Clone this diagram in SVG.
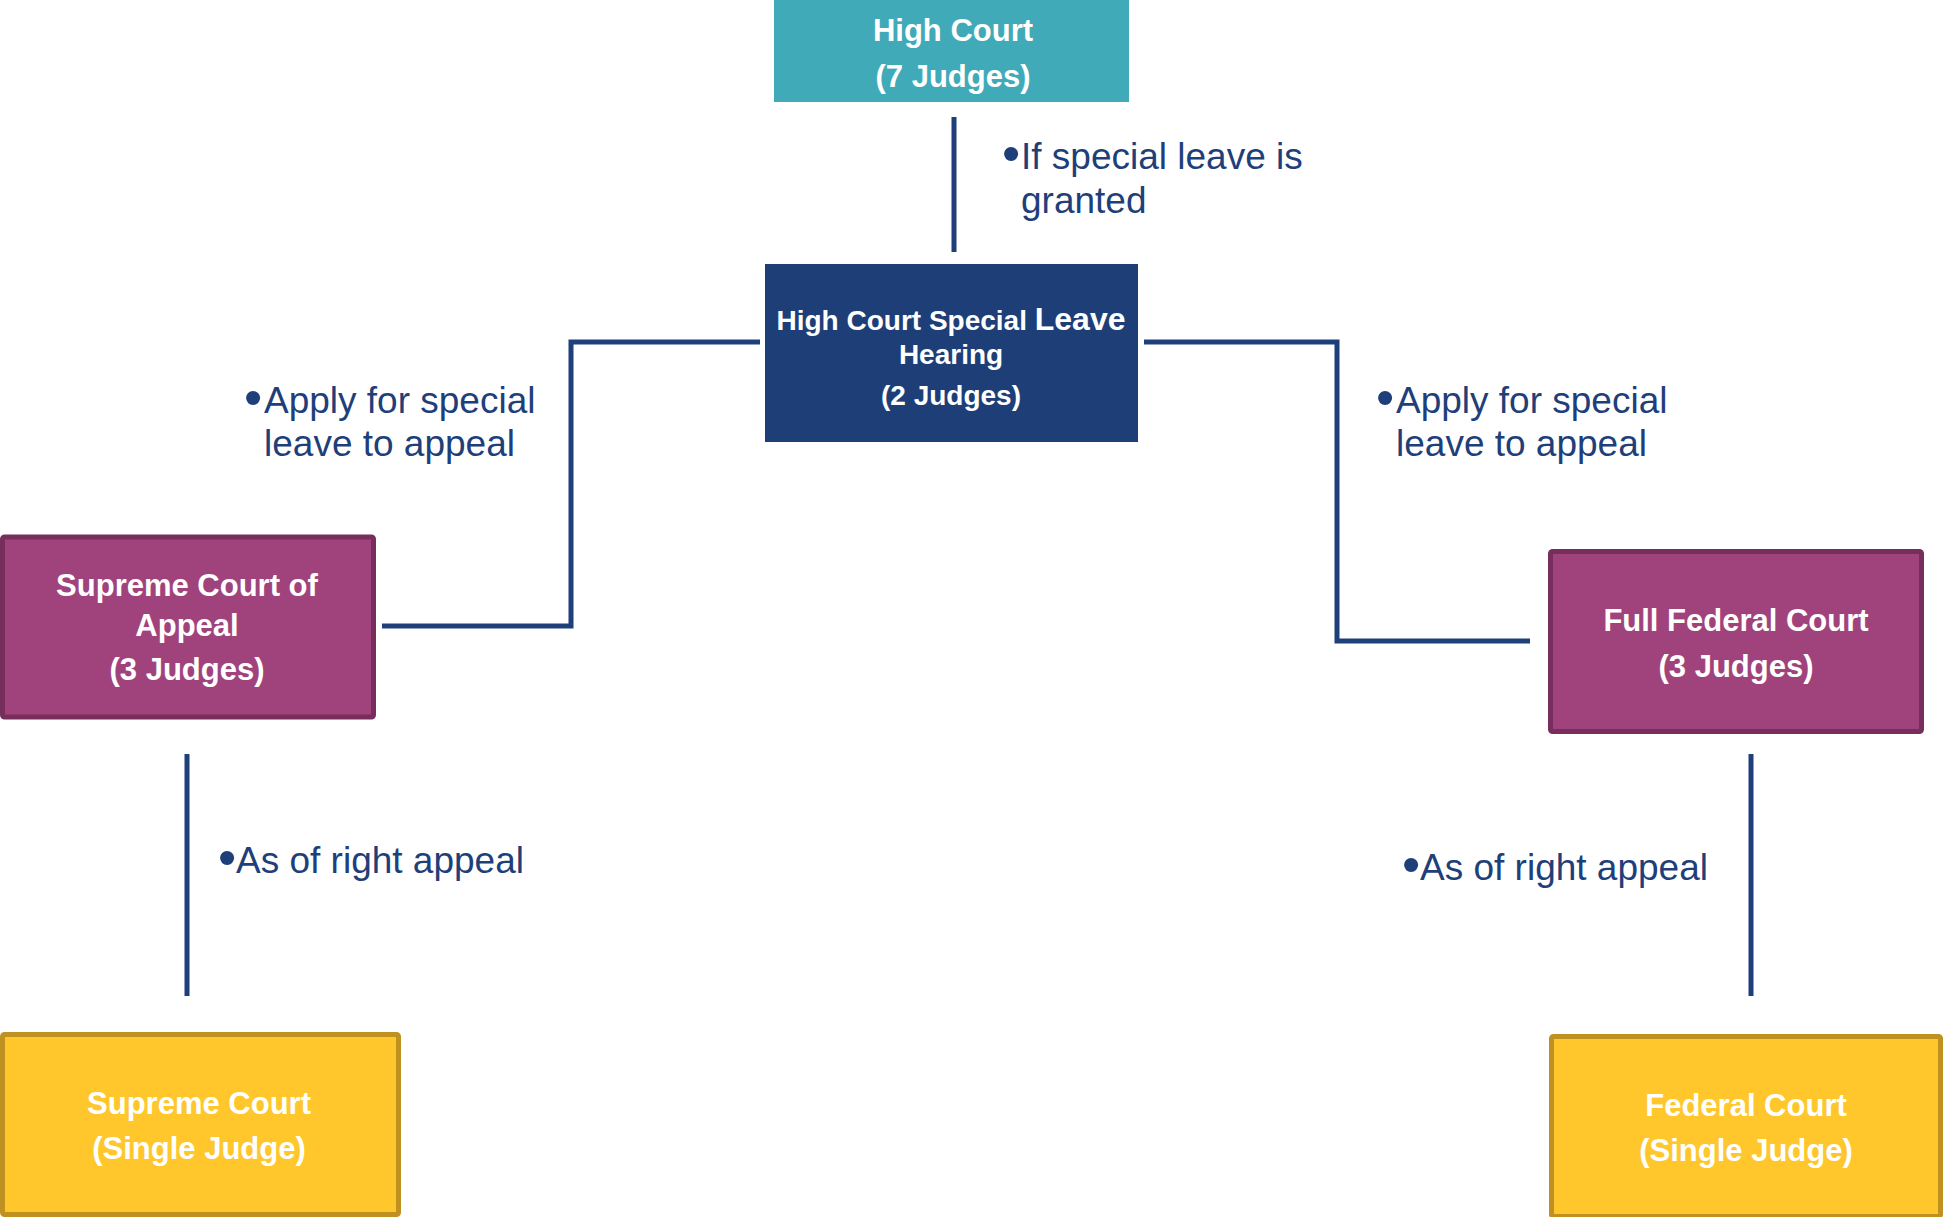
<svg xmlns="http://www.w3.org/2000/svg" width="1943" height="1217" viewBox="0 0 1943 1217">
<style>
.conn{fill:none;stroke:#1F3F7A;stroke-width:5;stroke-linejoin:miter;stroke-linecap:butt}
.nt{font-family:"Liberation Sans",Arial,sans-serif;font-weight:bold;fill:#FFFFFF;text-anchor:middle;font-size:31px}
.nt.sm{font-size:28px}
.nt .big{font-size:32px}
.lbl{font-family:"Liberation Sans",Arial,sans-serif;fill:#1F3F7A;font-size:37px}
.bul{font-family:"Liberation Sans",Arial,sans-serif;fill:#1F3F7A;font-size:52px;text-anchor:middle}
.purple{fill:#A0437D;stroke:#772E5C;stroke-width:5}
.yellow{fill:#FFC72C;stroke:#BF9121;stroke-width:5}
</style>
<rect width="1943" height="1217" fill="#FFFFFF"/>
<g id="connectors">
<line class="conn" x1="954" y1="117" x2="954" y2="252"/>
<polyline class="conn" points="760,342 571,342 571,626 382,626"/>
<polyline class="conn" points="1144,342 1337,342 1337,641 1530,641"/>
<line class="conn" x1="187" y1="754" x2="187" y2="996"/>
<line class="conn" x1="1751" y1="754" x2="1751" y2="996"/>
</g>
<g id="labels">
<text class="bul" x="1011" y="171">•</text>
<text class="lbl" x="1021" y="169">If  special leave is</text>
<text class="lbl" x="1021" y="213">granted</text>
<text class="bul" x="253" y="415">•</text>
<text class="lbl" x="264" y="413">Apply for special</text>
<text class="lbl" x="264" y="456">leave to appeal</text>
<text class="bul" x="1385" y="415">•</text>
<text class="lbl" x="1396" y="413">Apply for special</text>
<text class="lbl" x="1396" y="456">leave to appeal</text>
<text class="bul" x="227" y="875">•</text>
<text class="lbl" x="236" y="873">As of right appeal</text>
<text class="bul" x="1411" y="882">•</text>
<text class="lbl" x="1420" y="880">As of right appeal</text>
</g>
<g id="high-court">
<rect x="774" y="0" width="355" height="102" fill="#41AAB9"/>
<text class="nt" x="953" y="41">High Court</text>
<text class="nt" x="953" y="87">(7 Judges)</text>
</g>
<g id="special-leave">
<rect x="765" y="264" width="373" height="178" fill="#1E3E78"/>
<text class="nt sm" x="951" y="330">High Court Special <tspan class="big">Leave</tspan></text>
<text class="nt sm" x="951" y="364">Hearing</text>
<text class="nt sm" x="951" y="405">(2 Judges)</text>
</g>
<g id="supreme-court-appeal">
<rect class="purple" x="2.5" y="537" width="371" height="180" rx="2"/>
<text class="nt" x="187" y="596">Supreme Court of</text>
<text class="nt" x="187" y="636">Appeal</text>
<text class="nt" x="187" y="680">(3 Judges)</text>
</g>
<g id="full-federal-court">
<rect class="purple" x="1550.5" y="551.5" width="371" height="180" rx="2"/>
<text class="nt" x="1736" y="631">Full Federal Court</text>
<text class="nt" x="1736" y="677">(3 Judges)</text>
</g>
<g id="supreme-court">
<rect class="yellow" x="2.5" y="1034.5" width="396" height="180" rx="2"/>
<text class="nt" x="199" y="1114">Supreme Court</text>
<text class="nt" x="199" y="1159">(Single Judge)</text>
</g>
<g id="federal-court">
<rect class="yellow" x="1551.5" y="1036.5" width="389" height="180" rx="2"/>
<text class="nt" x="1746" y="1116">Federal Court</text>
<text class="nt" x="1746" y="1161">(Single Judge)</text>
</g>
</svg>
